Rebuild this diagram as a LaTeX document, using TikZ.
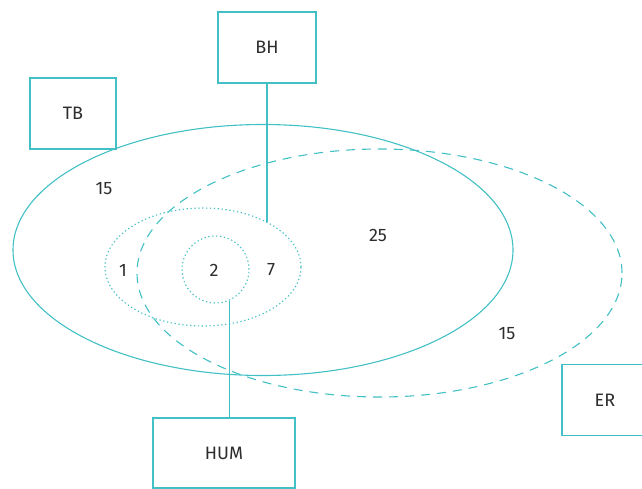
\documentclass[tikz,border=0pt]{standalone}
\usepackage{fontspec}
\setmainfont{Fira Sans}
\usetikzlibrary{shapes.geometric}
\definecolor{lineteal}{RGB}{66,192,197}
\definecolor{ink}{RGB}{45,45,45}

\begin{document}
\begin{tikzpicture}[x=1pt,y=-1pt,
		every node/.style={text=ink,font=\fontsize{18}{21}\selectfont},
		box/.style={draw=lineteal,line width=1.1pt,rectangle,minimum width=#1,minimum height=71pt,inner sep=0pt},
		oval/.style={draw=lineteal,line width=1.1pt,ellipse,inner sep=0pt},
		dotline/.style={dash pattern=on 1.3pt off 2.6pt},
		dashline/.style={dash pattern=on 9pt off 7pt}]
				\clip (0,0) rectangle (642,488);
				
				% sets
				\node[oval,minimum width=500pt,minimum height=251pt] (tbset) at (263,250) {};
				\node[oval,dashline,minimum width=485pt,minimum height=248pt] (erset) at (379.5,273) {};
				\node[oval,dotline,minimum width=196pt,minimum height=118pt] (bhset) at (203,267) {};
				\node[oval,dotline,minimum width=67pt,minimum height=67pt] (core) at (215.5,269.5) {};
				
				% labels
				\node (n15a) at (104,189) {15};
				\node (n25) at (378,235) {25};
				\node (n1) at (123,270) {1};
				\node (n2) at (214,270) {2};
				\node (n7) at (271,270) {7};
				\node (n15b) at (507,334) {15};
				
				% boxes
				\node[box=86pt] (tb) at (73,113.5) {TB};
				\node[box=98pt] (bh) at (267,47.5) {BH};
				\node[box=86pt] (er) at (605,400) {ER};
				\node[box=142pt,minimum height=70pt] (hum) at (224,453) {HUM};
				
				\draw[lineteal,line width=1.1pt] (bh.south) -- (bh.south |- bhset.35);
				\draw[lineteal,line width=1.1pt] (core.-66) -- (core.-66 |- hum.north);
			\end{tikzpicture}
\end{document}
